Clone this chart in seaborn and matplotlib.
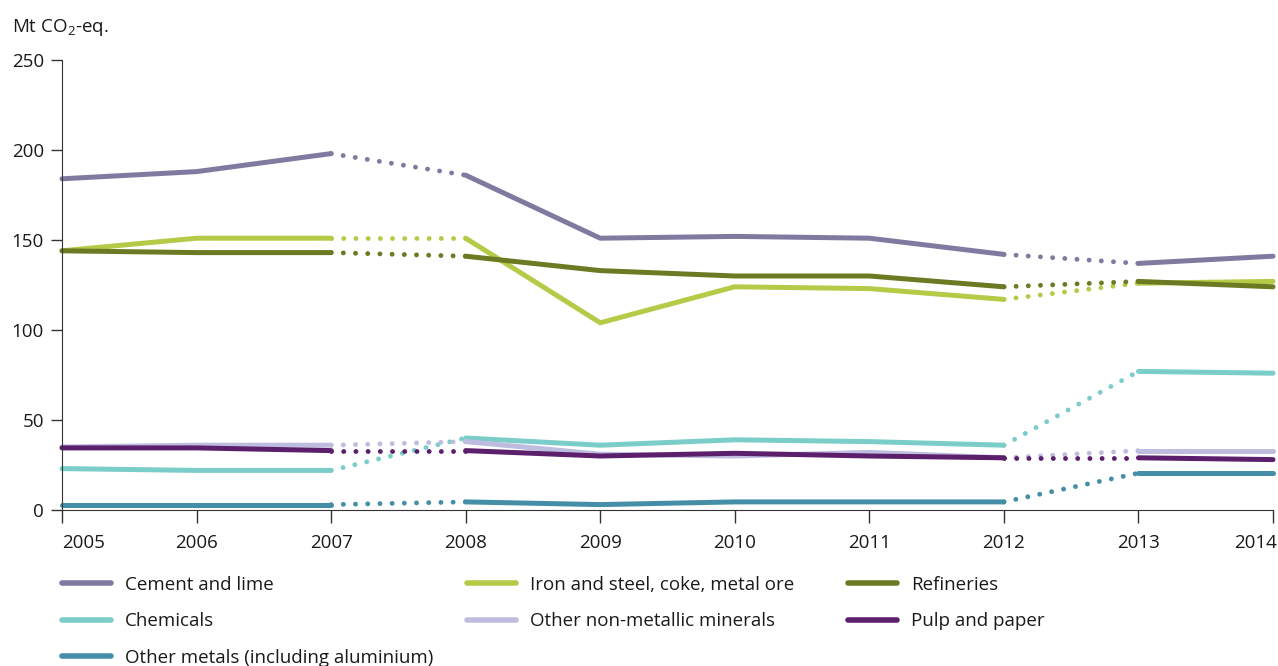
import matplotlib
matplotlib.use("Agg")
import matplotlib.pyplot as plt
from matplotlib.lines import Line2D
import matplotlib.transforms as mtransforms
import seaborn as sns
import pandas as pd

sns.set_style("ticks")
plt.rcParams['font.family'] = ['Open Sans', 'DejaVu Sans']

years = [2005, 2006, 2007, 2008, 2009, 2010, 2011, 2012, 2013, 2014]
cement = [184, 188, 198, 186, 151, 152, 151, 142, 137, 141]
iron_steel = [144, 151, 151, 151, 104, 124, 123, 117, 126, 127]
refineries = [144, 143, 143, 141, 133, 130, 130, 124, 127, 124]
chemicals = [23, 22, 22, 40, 36, 39, 38, 36, 77, 76]
other_nonmet = [35, 36, 36, 38, 31, 30, 32, 29, 33, 33]
pulp_paper = [34.5, 34.5, 33, 33, 30, 31.5, 30, 29, 29, 28]
other_metals = [3, 3, 3, 4.5, 3, 4.5, 4.5, 4.5, 20.5, 20.5]

series_names = ["Cement and lime", "Iron and steel, coke, metal ore", "Refineries",
                "Chemicals", "Other non-metallic minerals", "Pulp and paper",
                "Other metals (including aluminium)"]
series_values = [cement, iron_steel, refineries, chemicals, other_nonmet, pulp_paper, other_metals]
colors = ["#7f7ba0", "#b5cb48", "#6b7b23", "#7acdc8", "#bfbddf", "#5b1f6b", "#448fa7"]

solid_segments = [(0, 3), (3, 8), (8, 10)]
dotted_segments = [(2, 4), (7, 9)]

FS = 13.5
fig = plt.figure(figsize=(12.78, 6.66), dpi=100)
ax = fig.add_axes([62/1278, 1-510/666, (1273-62)/1278, 450/666])

for name, vals, col in zip(series_names, series_values, colors):
    df = pd.DataFrame({"year": years, "value": vals})
    for a, b in dotted_segments:
        sub = df.iloc[a:b]
        sns.lineplot(data=sub, x="year", y="value", ax=ax, color=col, lw=3.5,
                     linestyle=(0, (0.01, 2.5)), dash_capstyle="round",
                     solid_capstyle="round", clip_on=False, legend=False)
    for a, b in solid_segments:
        sub = df.iloc[a:b]
        sns.lineplot(data=sub, x="year", y="value", ax=ax, color=col, lw=3.6,
                     solid_capstyle="round", clip_on=False, legend=False)

ax.set_xlim(2005, 2014)
ax.set_ylim(0, 250)
ax.set_xticks(years)
ax.set_yticks([0, 50, 100, 150, 200, 250])
ax.set_xlabel("")
ax.set_ylabel("")
sns.despine(ax=ax)
ax.spines['left'].set_color("#333333")
ax.spines['bottom'].set_color("#333333")
ax.tick_params(axis='y', length=8, width=1, color="#333333", labelsize=FS, pad=5, labelcolor="#1a1a1a")
ax.tick_params(axis='x', length=9, width=1, color="#333333", labelsize=FS, pad=8, labelcolor="#1a1a1a")

xt = ax.get_xticklabels()
xt[0].set_ha("left")
xt[-1].set_ha("right")
xt[-1].set_transform(xt[-1].get_transform() + mtransforms.ScaledTranslation(4/100, 0, fig.dpi_scale_trans))

fig.text(12/1278, 1-28/666, r"Mt CO$_\mathregular{2}$-eq.", fontsize=FS, va="center", ha="left", color="#1a1a1a")

def handle(c):
    return Line2D([0], [0], color=c, lw=4, solid_capstyle="round")

cols = [([0, 3, 6], 54.5/1278), ([1, 4], 459.5/1278), ([2, 5], 840.5/1278)]
for idx, x0 in cols:
    leg = fig.legend([handle(colors[i]) for i in idx], [series_names[i] for i in idx],
                     loc="upper left", bbox_to_anchor=(x0, 1-568/666), frameon=False,
                     fontsize=FS, handlelength=2.6, handletextpad=0.75, labelspacing=1.0,
                     borderaxespad=0)
    for t in leg.get_texts():
        t.set_color("#1a1a1a")

fig.savefig("out.png", dpi=100)
